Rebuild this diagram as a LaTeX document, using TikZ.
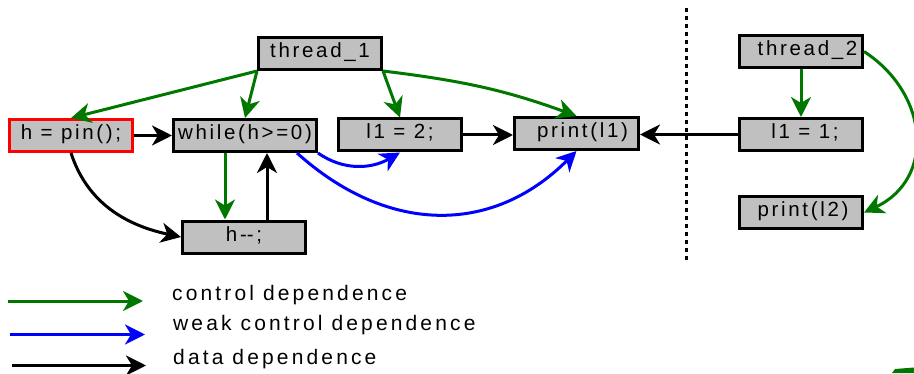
\documentclass[tikz,border=0pt]{standalone}
\usepackage{fontspec}
\newfontfamily\lblfont[LetterSpace=15]{Liberation Sans}
\newfontfamily\boxfont[LetterSpace=13]{Liberation Sans}
\usetikzlibrary{arrows.meta}
\definecolor{boxgray}{RGB}{192,192,192}
\definecolor{cgreen}{RGB}{0,120,0}
\definecolor{wblue}{RGB}{0,0,255}
\begin{document}
\begin{tikzpicture}[x=1pt,y=1pt,
  box/.style={draw=black, line width=3pt, fill=boxgray, inner sep=0pt,
    minimum height=32pt, minimum width=123pt, text height=14pt, text depth=6pt,
    font=\boxfont\fontsize{20.5}{23}\selectfont},
  edge/.style={line width=3pt, -{Stealth[length=20pt,width=20pt,inset=6pt]}},
  ctrl/.style={edge, draw=cgreen},
  weak/.style={edge, draw=wblue},
  data/.style={edge, draw=black},
  legend/.style={inner sep=0pt, font=\lblfont\fontsize{21}{24}\selectfont},
  sep/.style={line width=3pt, dash pattern=on 4pt off 4pt}
]
\useasboundingbox (0,0) rectangle (914,373);

% nodes
\node[box, draw=red] (pin) at (71,237.5) {h = pin();};
\node[box, minimum width=143pt] (while) at (245,237.5) {while(h>=0)};
\node[box] (hdec) at (244,136) {h-\kern0pt-;};
\node[box] (t1) at (320,319.5) {thread\_1};
\node[box] (l12) at (400,238) {l1 = 2;};
\node[box, minimum width=124pt] (pl1) at (576.5,239.5) {\hspace*{12pt}print(l1)};
\node[box] (t2) at (801,321.5) {\hspace*{13pt}thread\_2};
\node[box] (l11) at (801,238.5) {\hspace*{8pt}l1 = 1;};
\node[box] (pl2) at (801,160.5) {\hspace*{4pt}print(l2)};

% thread_1 edges
\draw[ctrl] (t1.south west) -- (pin.north);
\draw[ctrl] (t1.south west) -- (while.north);
\draw[ctrl] (t1.south east) -- (l12.north);
\draw[ctrl] (t1.south east) to[out=-7,in=160] (pl1.north);

% thread_1 body
\draw[data] (pin.east) -- (while.west);
\draw[data] (pin.south) to[out=-72,in=168] (hdec.west);
\draw[ctrl] ([xshift=-20pt]while.south) -- ([xshift=-19pt]hdec.north);
\draw[data] ([xshift=23pt]hdec.north) -- ([xshift=22pt]while.south);
\draw[weak] (while.south east) to[out=-35,in=-150] (l12.south);
\draw[weak] ([xshift=-21pt]while.south east) to[out=-42,in=225,looseness=1.1] (pl1.south);
\draw[data] (l12.east) -- (l12.east -| pl1.west);

% thread_2
\draw[data] (l11.west) -- (l11.west -| pl1.east);
\draw[ctrl] (t2.south) -- (l11.north);
\draw[ctrl] (t2.east) to[out=-33,in=25,looseness=1.25] (pl2.east);

% separator
\coordinate (s1) at (686,365);
\coordinate (s2) at (686,113);
\draw[sep] (s1) -- (s2);

% legend
\coordinate (g1) at (8,72);     \coordinate (g2) at (143,72);
\coordinate (b1) at (10,38.5);  \coordinate (b2) at (145,38.5);
\coordinate (k1) at (12,7.5);   \coordinate (k2) at (146,7.5);
\draw[ctrl] (g1) -- (g2);
\draw[weak] (b1) -- (b2);
\draw[data] (k1) -- (k2);
\node[legend, anchor=base west] (lg1) at (172,73) {control dependence};
\node[legend, anchor=base west] (lg2) at (173,43) {weak control dependence};
\node[legend, anchor=base west] (lg3) at (173,9) {data dependence};

% clipped fragment at the lower right corner
\fill[cgreen] (892,0) -- (895,4) -- (914,5.5) -- (914,0) -- cycle;
\end{tikzpicture}
\end{document}
